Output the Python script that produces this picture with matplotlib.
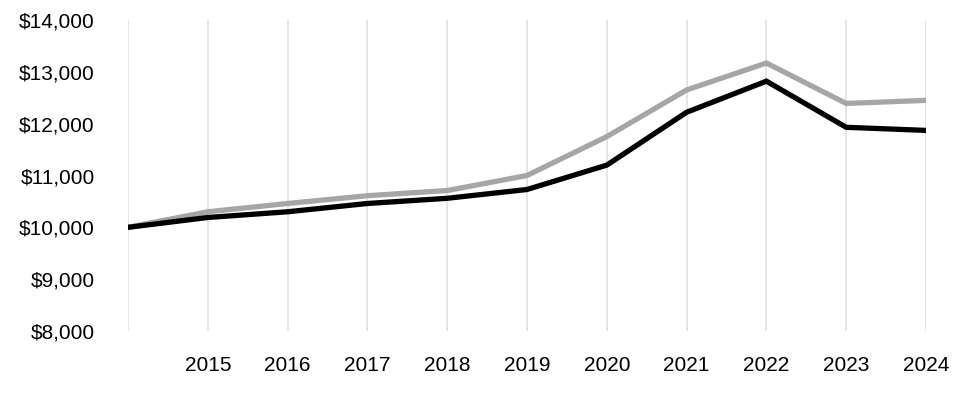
import matplotlib.pyplot as plt
from matplotlib.ticker import FuncFormatter

years = [2014, 2015, 2016, 2017, 2018, 2019, 2020, 2021, 2022, 2023, 2024]
gray_values = [10000, 10300, 10460, 10610, 10710, 11000, 11750, 12650, 13170, 12390, 12450]
black_values = [10000, 10190, 10300, 10460, 10560, 10730, 11200, 12220, 12820, 11930, 11870]
year_labels = ['', '2015', '2016', '2017', '2018', '2019', '2020', '2021', '2022', '2023', '2024']

plt.rcParams['font.family'] = ['Liberation Sans', 'DejaVu Sans']

fig = plt.figure(figsize=(9.6, 4), dpi=100)
ax = fig.add_axes([0.1333, 0.1725, 0.8313, 0.7775])

ax.plot(years, gray_values, color='#a6a6a6', linewidth=3.8, solid_joinstyle='miter', zorder=3)
ax.plot(years, black_values, color='#000000', linewidth=3.8, solid_joinstyle='miter', zorder=4)

ax.set_xlim(2014, 2024)
ax.set_ylim(8000, 14000)
ax.set_xticks(years)
ax.set_xticklabels(year_labels)
ax.set_yticks(range(8000, 14001, 1000))
ax.yaxis.set_major_formatter(FuncFormatter(lambda v, p: f'${v:,.0f}'))

ax.grid(axis='x', color='#e3e3e3', linewidth=1.3)
ax.grid(axis='y', visible=False)
for s in ['top', 'right', 'bottom', 'left']:
    ax.spines[s].set_visible(False)

ax.tick_params(axis='both', length=0, labelsize=15)
ax.tick_params(axis='y', pad=24)
ax.tick_params(axis='x', pad=18)

fig.savefig('out.png', dpi=100)
